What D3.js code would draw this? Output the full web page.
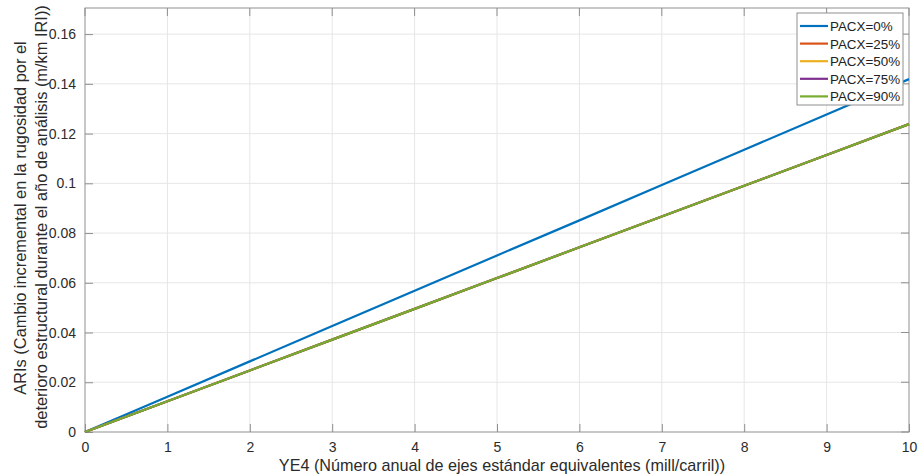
<!DOCTYPE html>
<html><head><meta charset="utf-8">
<script src="https://cdn.jsdelivr.net/npm/d3@7"></script>
<style>body{margin:0;background:#fff;} svg{display:block;font-family:"Liberation Sans",Arial,Helvetica,sans-serif;}</style>
</head><body>
<svg id="c" width="921" height="476"></svg>
<script>
const xValues = [0,1,2,3,4,5,6,7,8,9,10];
const seriesNames = ["PACX=0%","PACX=25%","PACX=50%","PACX=75%","PACX=90%"];
const seriesColors = ["#0072BD","#D95319","#EDB120","#7E2F8E","#77AC30"];
const pacx0  = [0,0.0142,0.0284,0.0426,0.0568,0.0710,0.0851,0.0993,0.1135,0.1277,0.1419];
const pacx25 = [0,0.01238,0.02476,0.03714,0.04952,0.0619,0.07428,0.08666,0.09904,0.11142,0.1238];
const pacx50 = [0,0.01238,0.02476,0.03714,0.04952,0.0619,0.07428,0.08666,0.09904,0.11142,0.1238];
const pacx75 = [0,0.01238,0.02476,0.03714,0.04952,0.0619,0.07428,0.08666,0.09904,0.11142,0.1238];
const pacx90 = [0,0.01238,0.02476,0.03714,0.04952,0.0619,0.07428,0.08666,0.09904,0.11142,0.1238];
const xTicks = [0,1,2,3,4,5,6,7,8,9,10];
const yTicks = [0,0.02,0.04,0.06,0.08,0.1,0.12,0.14,0.16];
const yTickLabels = ["0","0.02","0.04","0.06","0.08","0.1","0.12","0.14","0.16"];
const xLabel = "YE4 (Número anual de ejes estándar equivalentes (mill/carril))";
const yLabel1 = "ARIs (Cambio incremental en la rugosidad por el";
const yLabel2 = "deterioro estructural durante el año de análisis (m/km IRI))";

const allSeries = [pacx0,pacx25,pacx50,pacx75,pacx90];
const svg = d3.select("#c");
const L=85,R=909,T=8,B=432;
const x = d3.scaleLinear().domain([0,10]).range([L,R]);
const y = d3.scaleLinear().domain([0,0.1705]).range([B,T]);
const axisCol="#8f8f8f", textCol="#2b2b2b";

// grid
svg.append("g").selectAll("line").data(xTicks.slice(1,-1)).join("line")
  .attr("x1",d=>x(d)).attr("x2",d=>x(d)).attr("y1",T).attr("y2",B)
  .attr("stroke","#e6e6e6").attr("stroke-width",1);
svg.append("g").selectAll("line").data(yTicks.slice(1)).join("line")
  .attr("x1",L).attr("x2",R).attr("y1",d=>y(d)).attr("y2",d=>y(d))
  .attr("stroke","#e6e6e6").attr("stroke-width",1);

// axes
const xAx = svg.append("g").attr("transform",`translate(0,${B})`)
  .call(d3.axisBottom(x).tickValues(xTicks).tickSize(-8).tickPadding(10).tickFormat(d3.format("d")));
const yAx = svg.append("g").attr("transform",`translate(${L},0)`)
  .call(d3.axisLeft(y).tickValues(yTicks).tickSize(-8).tickPadding(9).tickFormat((d,i)=>yTickLabels[i]));
[xAx,yAx].forEach(g=>{
  g.select(".domain").remove();
  g.selectAll(".tick line").attr("stroke",axisCol);
  g.selectAll(".tick text").attr("fill",textCol).style("font-size","14px").style("font-family","Liberation Sans, Arial, sans-serif");
});
// box-side ticks
svg.append("g").selectAll("line").data(yTicks).join("line")
  .attr("x1",R).attr("x2",R-8).attr("y1",d=>y(d)).attr("y2",d=>y(d)).attr("stroke",axisCol);
svg.append("g").selectAll("line").data(xTicks).join("line")
  .attr("x1",d=>x(d)).attr("x2",d=>x(d)).attr("y1",T).attr("y2",T+8).attr("stroke",axisCol);

// frame
svg.append("rect").attr("x",L).attr("y",T).attr("width",R-L).attr("height",B-T)
  .attr("fill","none").attr("stroke",axisCol).attr("stroke-width",1);

// lines
const line = d3.line().x((d,i)=>x(xValues[i])).y(d=>y(d));
svg.append("g").selectAll("path").data(allSeries).join("path")
  .attr("d",d=>line(d)).attr("fill","none")
  .attr("stroke",(d,i)=>seriesColors[i]).attr("stroke-width",2.2);

// labels
svg.append("text").attr("x",502).attr("y",471).attr("text-anchor","middle")
  .attr("fill",textCol).style("font-size","16.2px").text(xLabel);
svg.append("text").attr("transform",`translate(26,218) rotate(-90)`).attr("text-anchor","middle")
  .attr("fill",textCol).style("font-size","16.4px").text(yLabel1);
svg.append("text").attr("transform",`translate(47,217) rotate(-90)`).attr("text-anchor","middle")
  .attr("fill",textCol).style("font-size","16.4px").text(yLabel2);

// legend
const lg = svg.append("g").attr("transform","translate(797,13)");
lg.append("rect").attr("width",106).attr("height",92).attr("fill","#fff").attr("stroke","#8f8f8f").attr("stroke-width",1);
seriesNames.forEach((n,i)=>{
  const yy = 13 + i*17.6;
  lg.append("line").attr("x1",3).attr("x2",31).attr("y1",yy).attr("y2",yy)
    .attr("stroke",seriesColors[i]).attr("stroke-width",2.2);
  lg.append("text").attr("x",33).attr("y",yy+5).attr("fill","#222").style("font-size","13.4px").text(n);
});
</script>
</body></html>
